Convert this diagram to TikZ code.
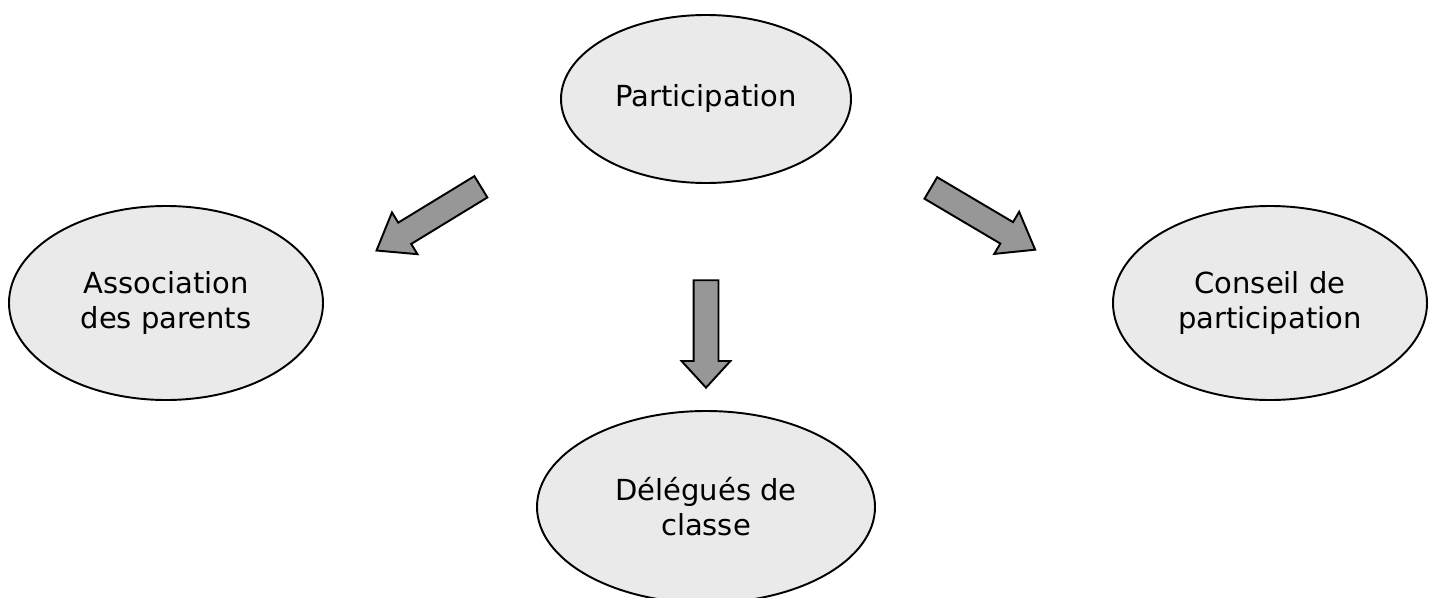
\documentclass[tikz,border=0pt]{standalone}
\usepackage{fontspec}
\setmainfont{DejaVu Sans}
\usepackage{tikz}
\usetikzlibrary{shapes.geometric, shapes.arrows}
\definecolor{bubble}{HTML}{EAEAEA}
\definecolor{fatarrow}{HTML}{979797}
\tikzset{
  bubble/.style={ellipse, draw, line width=1.1pt, fill=bubble, inner sep=0pt,
    align=center, font=\fontsize{16.5}{20}\selectfont},
  fatarrow/.style={single arrow, draw, line width=1.1pt, fill=fatarrow, anchor=tail,
    inner xsep=0pt, inner ysep=0.23cm, single arrow head extend=0.24cm, single arrow head indent=0pt}
}

\begin{document}
\begin{tikzpicture}
\useasboundingbox (0,0) rectangle (28.7,11.94);

  \node[bubble, minimum width=5.8cm, minimum height=3.36cm] (part) at (14.12,9.96) {Participation};
  \node[bubble, minimum width=6.28cm, minimum height=3.88cm] (asso) at (3.32,5.88) {Association\\des parents};
  \node[bubble, minimum width=6.28cm, minimum height=3.88cm] (conseil) at (25.4,5.88) {Conseil de\\participation};
  \node[bubble, minimum width=6.76cm, minimum height=3.84cm] (deleg) at (14.12,1.8) {Délégués de\\classe};

% block arrows between the bubbles
  \node[fatarrow, minimum height=2.446cm, single arrow tip angle=73, rotate=211.4] (toasso) at (9.634,8.214) {};
  \node[fatarrow, minimum height=2.148cm, single arrow tip angle=85, rotate=270] (todeleg) at (14.12,6.354) {};
  \node[fatarrow, minimum height=2.424cm, single arrow tip angle=73, rotate=-30.6] (toconseil) at (18.6,8.19) {};

\end{tikzpicture}
\end{document}
